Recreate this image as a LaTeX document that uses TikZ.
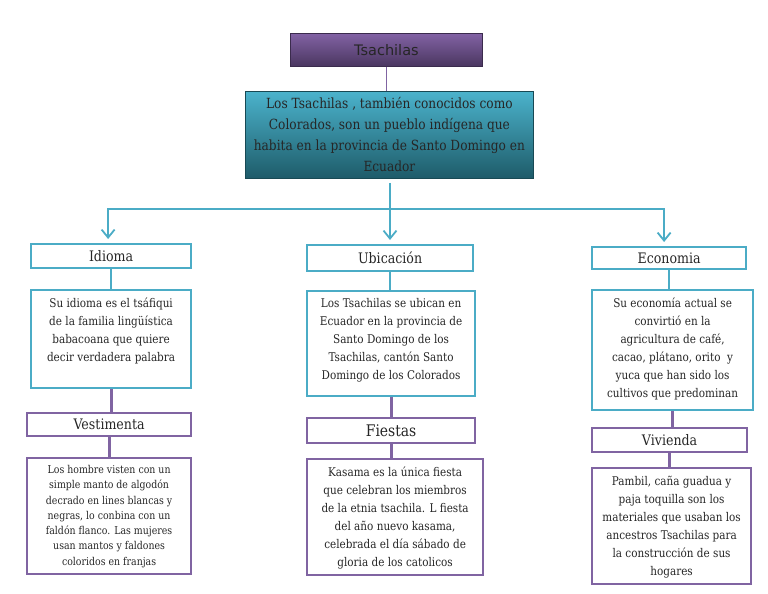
\documentclass[tikz,border=0pt]{standalone}
\usepackage{fontspec}
\setmainfont{DejaVu Serif}[FakeStretch=0.87]
\newfontfamily\titlefont{DejaVu Sans}
\usetikzlibrary{arrows.meta,positioning,calc}
\definecolor{tealline}{HTML}{4BACC6}
\definecolor{plumline}{HTML}{8064A2}
\definecolor{plumtop}{HTML}{8262A4}
\definecolor{plumbottom}{HTML}{4A3660}
\definecolor{tealtop}{HTML}{4BB3CC}
\definecolor{tealbottom}{HTML}{1E5B69}
\definecolor{inkgray}{HTML}{262626}
\tikzset{
  boxsize/.style 2 args={minimum width=#1pt, minimum height=#2pt},
  headtext/.style={font=\fontsize{14.5}{17}\selectfont, text=inkgray},
  tealhead/.style={draw=tealline, line width=2.2pt, inner sep=0pt, anchor=north west, headtext},
  plumhead/.style={draw=plumline, line width=2.2pt, inner sep=0pt, anchor=north west, headtext},
  tealpanel/.style={draw=tealline, line width=2.2pt, inner sep=0pt, anchor=north west},
  plumpanel/.style={draw=plumline, line width=2.2pt, inner sep=0pt, anchor=north west},
  bodytext/.style={font=\fontsize{12}{18}\selectfont, text=inkgray, align=center, inner sep=0pt, anchor=north},
  tealink/.style={draw=tealline, line width=2.5pt},
  plumlink/.style={draw=plumline, line width=3pt},
  branch/.style={tealink, shorten >=4pt, -{Straight Barb[length=8pt,width=13pt,line width=1.8pt]}}
}

\begin{document}
\begin{tikzpicture}[x=1pt,y=-1pt]
    \useasboundingbox (0,0) rectangle (768,594);
    % top of the map
    \node[boxsize={192}{33}, anchor=north west, inner sep=0pt, top color=plumtop, bottom color=plumbottom,
          draw=plumbottom!80!black, line width=0.8pt, font=\titlefont\fontsize{14.5}{17}\selectfont,
          text=inkgray] (title) at (290,33) {Tsachilas};
    \node[boxsize={288}{87}, anchor=north west, inner sep=0pt, top color=tealtop, bottom color=tealbottom,
          draw=tealbottom!80!black, line width=0.8pt, align=center, font=\fontsize{14}{21}\selectfont,
          text=inkgray] (summary) at (245,91) {Los Tsachilas , también conocidos como\\Colorados, son un pueblo indígena que\\habita en la provincia de Santo Domingo en\\Ecuador};
    \draw[plumline, line width=1.5pt] (title.south) -- (title.south |- summary.north);
    % left column
    \node[tealhead, boxsize={160}{24}] (idioma) at (30,243) {Idioma};
    \node[tealpanel, boxsize={160}{98}] (idiomabox) at (30,289) {};
    \node[bodytext] (idiomatext) at ([yshift=-8.5pt]idiomabox.north) {Su idioma es el tsáfiqui\\de la familia lingüística\\babacoana que quiere\\decir verdadera palabra};
    \node[plumhead, boxsize={164}{23}] (vestimenta) at (26,412) {Vestimenta};
    \node[plumpanel, boxsize={164}{116}] (vestbox) at (26,457) {};
    \node[bodytext, font=\fontsize{10.8}{15.3}\selectfont] (vesttext) at ([yshift=-8pt]vestbox.north) {Los hombre visten con un\\simple manto de algodón\\decrado en lines blancas y\\negras, lo conbina con un\\faldón flanco. Las mujeres\\usan mantos y faldones\\coloridos en franjas};
    % middle column
    \node[tealhead, boxsize={166}{26}] (ubicacion) at (306,244) {Ubicación};
    \node[tealpanel, boxsize={168}{105}] (ubicbox) at (306,290) {};
    \node[bodytext] (ubictext) at ([yshift=-8.5pt]ubicbox.north) {Los Tsachilas se ubican en\\Ecuador en la provincia de\\Santo Domingo de los\\Tsachilas, cantón Santo\\Domingo de los Colorados};
    \node[plumhead, boxsize={168}{25}, font=\fontsize{16}{19}\selectfont] (fiestas) at (306,417) {Fiestas};
    \node[plumpanel, boxsize={176}{116}] (fiestbox) at (306,458) {};
    \node[bodytext] (fiesttext) at ([yshift=-8.5pt]fiestbox.north) {Kasama es la única fiesta\\que celebran los miembros\\de la etnia tsachila. L fiesta\\del año nuevo kasama,\\celebrada el día sábado de\\gloria de los catolicos};
    % right column
    \node[tealhead, boxsize={154}{22}] (economia) at (591,246) {Economia};
    \node[tealpanel, boxsize={161}{120}] (econbox) at (591,289) {};
    \node[bodytext] (econtext) at ([yshift=-8.5pt]econbox.north) {Su economía actual se\\convirtió en la\\agricultura de café,\\cacao, plátano, orito~ y\\yuca que han sido los\\cultivos que predominan};
    \node[plumhead, boxsize={155}{24}] (vivienda) at (591,427) {Vivienda};
    \node[plumpanel, boxsize={159}{116}] (vivbox) at (591,467) {};
    \node[bodytext] (vivtext) at ([yshift=-8.5pt]vivbox.north) {Pambil, caña guadua y\\paja toquilla son los\\materiales que usaban los\\ancestros Tsachilas para\\la construcción de sus\\hogares};
    % branches
    \coordinate (hub) at (390,209);
    \draw[tealink] ([yshift=-4pt]summary.south -| hub) -- (hub);
    \draw[branch] (hub) -| ([xshift=-3pt]idioma.north);
    \draw[branch] (hub) -- (hub |- ubicacion.north);
    \draw[branch] (hub) -| ([xshift=-5pt]economia.north);
    % links inside the columns
    \draw[tealink] (idioma.south) -- (idioma.south |- idiomabox.north);
    \draw[tealink] (ubicacion.south) -- (ubicacion.south |- ubicbox.north);
    \draw[tealink] (economia.south) -- (economia.south |- econbox.north);
    \draw[plumlink] (idiomabox.south) -- (idiomabox.south |- vestimenta.north);
    \draw[plumlink] (vestimenta.south) -- (vestimenta.south |- vestbox.north);
    \draw[plumlink] (ubicbox.south) -- (ubicbox.south |- fiestas.north);
    \draw[plumlink] (fiestas.south) -- (fiestas.south |- fiestbox.north);
    \draw[plumlink] (econbox.south) -- (econbox.south |- vivienda.north);
    \draw[plumlink] (vivienda.south) -- (vivienda.south |- vivbox.north);
\end{tikzpicture}
\end{document}
